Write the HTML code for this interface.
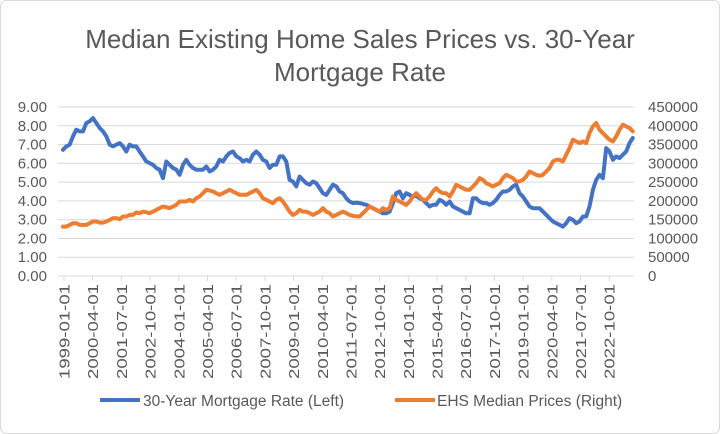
<!DOCTYPE html>
<html><head><meta charset="utf-8"><style>
html,body{margin:0;padding:0;background:#fff;}
svg{display:block;font-family:"Liberation Sans",sans-serif;}
</style></head><body>
<svg id="chart" width="720" height="434" viewBox="0 0 720 434">
<rect x="0.5" y="0.5" width="719" height="433" rx="6" fill="#fff" stroke="#d9d9d9"/>
<text x="360" y="48" text-anchor="middle" font-size="26" fill="#595959">Median Existing Home Sales Prices vs. 30-Year</text>
<text x="360" y="81" text-anchor="middle" font-size="26" fill="#595959">Mortgage Rate</text>
<g id="grid"></g><g id="axes"></g><g id="series"></g>
<g>
<line x1="100" y1="400" x2="140" y2="400" stroke="#4472c4" stroke-width="4"/>
<text x="143" y="406" font-size="15.5" fill="#595959">30-Year Mortgage Rate (Left)</text>
<line x1="395" y1="400" x2="435" y2="400" stroke="#ed7d31" stroke-width="4"/>
<text x="437" y="406" font-size="15.5" fill="#595959">EHS Median Prices (Right)</text>
</g>
</svg>
<script>
const xTickLabels=["1999-01-01","2000-04-01","2001-07-01","2002-10-01","2004-01-01","2005-04-01","2006-07-01","2007-10-01","2009-01-01","2010-04-01","2011-07-01","2012-10-01","2014-01-01","2015-04-01","2016-07-01","2017-10-01","2019-01-01","2020-04-01","2021-07-01","2022-10-01"];
const leftTicks=[0,1,2,3,4,5,6,7,8,9];
const rightTicks=[0,50000,100000,150000,200000,250000,300000,350000,400000,450000];
const sampleStepMonths=1.742;
const rateValues=[6.72,6.90,6.99,7.44,7.79,7.70,7.70,8.15,8.24,8.41,8.15,7.88,7.70,7.44,6.99,6.90,6.99,7.08,6.90,6.63,6.99,6.90,6.90,6.63,6.37,6.10,6.01,5.92,5.75,5.66,5.21,6.10,5.92,5.75,5.66,5.39,5.92,6.19,5.92,5.75,5.66,5.66,5.66,5.83,5.57,5.66,5.83,6.19,6.10,6.37,6.55,6.63,6.37,6.28,6.10,6.19,6.10,6.46,6.63,6.46,6.19,6.10,5.75,5.92,5.92,6.37,6.37,6.10,5.12,5.03,4.77,5.30,5.12,4.94,4.86,5.03,4.94,4.68,4.41,4.32,4.59,4.86,4.77,4.50,4.41,4.14,3.97,3.88,3.91,
3.88,3.84,3.79,3.70,3.61,3.52,3.43,3.34,3.34,3.43,3.88,4.41,4.50,4.14,4.41,4.32,4.23,4.27,4.14,4.06,3.88,3.70,3.79,3.79,4.06,3.97,3.79,3.97,3.70,3.61,3.52,3.43,3.34,3.34,4.14,4.14,3.97,3.88,3.88,3.79,3.88,4.06,4.32,4.50,4.50,4.59,4.77,4.86,4.41,4.23,3.97,3.70,3.61,3.61,3.61,3.43,3.26,3.08,2.90,2.81,2.72,2.63,2.81,3.08,2.99,2.81,2.90,3.17,3.17,3.70,4.59,5.12,5.39,5.21,6.81,6.63,6.19,6.37,6.28,6.46,6.63,7.08,7.35];
const priceValues=[131600,131600,136100,140500,140500,136100,136100,136100,140500,145000,145000,142300,142300,145000,149400,153800,153800,151200,158300,158300,162700,162700,169000,167200,171600,169900,167200,171600,176100,180500,185000,183200,180500,185000,189400,198300,198300,198300,202800,198300,207200,211700,220500,229400,227700,225000,220500,216100,220500,225000,229400,225000,220500,216100,216100,216100,220500,225000,229400,220500,207200,202800,198300,193900,202800,207200,198300,185000,171600,162700,167200,176100,171600,171600,167200,162700,167200,171600,180500,171600,167200,158300,162700,167200,171600,167200,162700,160000,159000,
158300,167200,176100,185000,180500,176100,171600,180500,176100,180500,211700,202800,198300,193900,189400,198300,211700,220500,211700,202800,202800,211700,225000,233900,225000,220500,220500,211700,225000,242800,238300,233900,229400,229400,238300,247200,260600,256100,247200,242800,238300,242800,247200,260600,269500,265000,260600,251700,251700,256100,265000,278300,273900,269500,266800,269500,278300,287200,305000,309500,309500,305000,322800,340600,362800,358400,353900,358400,353900,380600,398400,407300,389500,380600,371700,362800,358400,371700,389500,402800,398400,394000,385000];

const NS="http://www.w3.org/2000/svg";
const X0=63,PXM=1.913,Y0=276,Y9=107;
const xScale=m=>X0+m*PXM;
const yLeft=v=>Y0-(v/9)*(Y0-Y9);
const yRight=v=>Y0-(v/450000)*(Y0-Y9);
function mk(tag,attrs,parent){const e=document.createElementNS(NS,tag);for(const k in attrs)e.setAttribute(k,attrs[k]);parent.appendChild(e);return e;}
const grid=document.getElementById('grid'),axes=document.getElementById('axes'),series=document.getElementById('series');
leftTicks.forEach((t,i)=>{
  const y=yLeft(t);
  if(t>0){const g=mk('line',{x1:58,x2:634,y1:y,y2:y,stroke:'#d9d9d9','stroke-width':1},grid);
  
  }
  const l=mk('text',{x:47,y:y+5,'text-anchor':'end','font-size':15,fill:'#595959'},axes);
  l.textContent=t.toFixed(2);
  
  
  const r=mk('text',{x:648,y:yRight(rightTicks[i])+5,'font-size':15,fill:'#595959'},axes);
  r.textContent=String(rightTicks[i]);
  
  
});
const ax=mk('line',{x1:58,x2:634,y1:Y0,y2:Y0,stroke:'#d9d9d9','stroke-width':1},axes);


xTickLabels.forEach((lab,i)=>{
  const x=xScale(i*15)+1;
  const tk=mk('line',{x1:x,x2:x,y1:Y0,y2:Y0+5,stroke:'#d9d9d9'},axes);
  
  
  const t=mk('text',{transform:`translate(${x+5.5},284) rotate(-90)`,'text-anchor':'end','font-size':15,textLength:95,lengthAdjust:'spacingAndGlyphs',fill:'#595959'},axes);
  t.textContent=lab;
  
  
});
function line(vals,ys,color,name){
  const d=vals.map((v,i)=>(i?'L':'M')+xScale(i*sampleStepMonths).toFixed(1)+','+ys(v).toFixed(1)).join('');
  const p=mk('path',{d:d,fill:'none',stroke:color,'stroke-width':4,'stroke-linejoin':'round','stroke-linecap':'round'},series);
  
  
}
line(rateValues,yLeft,'#4472c4','mortgage-rate-line');
line(priceValues,yRight,'#ed7d31','median-price-line');
</script>
</body></html>
